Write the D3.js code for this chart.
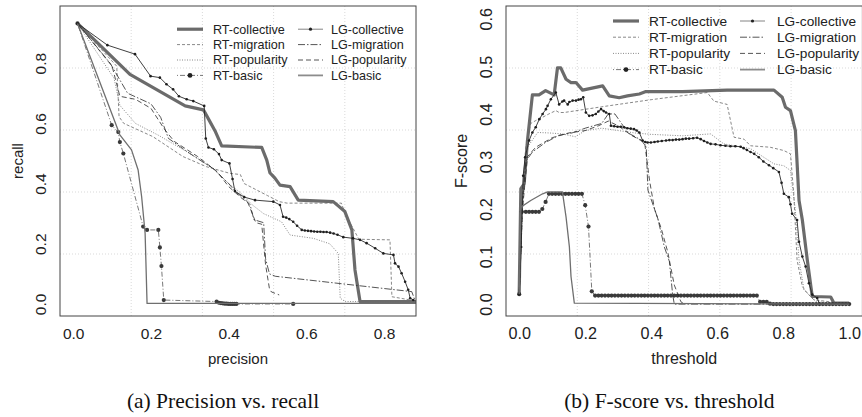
<!DOCTYPE html>
<html>
<head>
<meta charset="utf-8">
<script src="https://cdn.jsdelivr.net/npm/d3@7"></script>
<style>
body { margin: 0; background: #fff; }
svg { display: block; }
text { font-family: "Liberation Sans", Arial, sans-serif; fill: #222; }
.caption { font-family: "Liberation Serif", "Times New Roman", serif; fill: #111; }
</style>
</head>
<body>
<div id="chart"></div>
<script>
//series names in legend order (left column RT, right column LG)
var seriesNames = ["RT-collective", "RT-migration", "RT-popularity", "RT-basic",
    "LG-collective", "LG-migration", "LG-popularity", "LG-basic"];

//PANEL (a): [precision, recall] pairs
var prRTcollective = [[0.011,0.932],[0.146,0.763],[0.288,0.658],[0.335,0.645],[0.35,0.61],[0.365,0.575],[0.382,0.525],
    [0.485,0.52],[0.498,0.478],[0.506,0.436],[0.519,0.418],[0.532,0.395],[0.558,0.39],[0.579,0.345],[0.669,0.34],
    [0.699,0.307],[0.717,0.246],[0.725,0.113],[0.738,0.008],[0.882,0.008]];
var prRTmigration = [[0.011,0.932],[0.112,0.79],[0.118,0.622],[0.13,0.6],[0.205,0.556],[0.282,0.49],[0.343,0.456],
    [0.403,0.434],[0.43,0.43],[0.44,0.4],[0.47,0.38],[0.5,0.36],[0.53,0.34],[0.55,0.335],[0.69,0.335],[0.7,0.3],
    [0.735,0.215],[0.815,0.213],[0.82,0.024],[0.882,0.01]];
var prRTpopularity = [[0.011,0.932],[0.105,0.75],[0.12,0.66],[0.16,0.6],[0.22,0.56],[0.3,0.5],[0.36,0.45],[0.4,0.4],
    [0.43,0.37],[0.46,0.33],[0.49,0.3],[0.536,0.273],[0.558,0.229],[0.618,0.218],[0.66,0.2],[0.682,0.168],
    [0.687,0.019],[0.7,0.008],[0.882,0.008]];
var prRTbasic = [[0.011,0.932],[0.099,0.594],[0.116,0.571],[0.12,0.538],[0.129,0.5],[0.18,0.257],[0.19,0.246],
    [0.219,0.246],[0.223,0.188],[0.227,0.126],[0.233,0.013],[0.369,0.008],[0.375,0.004],[0.38,0.003],[0.385,0.002],
    [0.39,0.001],[0.395,0.001],[0.4,0],[0.405,0],[0.41,0],[0.415,0],[0.42,0],[0.566,0]];
var prLGcollective = [[0.011,0.932],[0.088,0.86],[0.159,0.83],[0.199,0.757],[0.223,0.752],[0.24,0.73],[0.257,0.713],
    [0.272,0.69],[0.292,0.68],[0.309,0.674],[0.337,0.658],[0.341,0.55],[0.348,0.52],[0.362,0.514],[0.375,0.498],
    [0.382,0.478],[0.402,0.467],[0.41,0.415],[0.416,0.375],[0.44,0.355],[0.468,0.345],[0.515,0.34],[0.532,0.329],
    [0.54,0.29],[0.548,0.287],[0.556,0.282],[0.566,0.273],[0.576,0.26],[0.588,0.246],[0.596,0.244],[0.604,0.243],
    [0.612,0.242],[0.62,0.241],[0.628,0.24],[0.636,0.24],[0.644,0.239],[0.652,0.239],[0.661,0.237],[0.67,0.234],
    [0.68,0.23],[0.695,0.222],[0.72,0.218],[0.738,0.213],[0.755,0.202],[0.777,0.185],[0.798,0.168],[0.824,0.163],
    [0.828,0.135],[0.837,0.124],[0.845,0.102],[0.854,0.074],[0.862,0.047],[0.867,0.019],[0.875,0.013]];
var prLGmigration = [[0.011,0.932],[0.095,0.8],[0.14,0.7],[0.2,0.665],[0.225,0.62],[0.245,0.55],[0.3,0.5],[0.36,0.45],
    [0.4,0.4],[0.42,0.37],[0.44,0.35],[0.455,0.33],[0.465,0.28],[0.49,0.27],[0.495,0.15],[0.505,0.1],[0.52,0.092],
    [0.871,0.041],[0.88,0.01]];
var prLGpopularity = [[0.011,0.932],[0.1,0.79],[0.12,0.69],[0.16,0.68],[0.2,0.65],[0.235,0.58],[0.26,0.54],[0.32,0.49],
    [0.37,0.44],[0.4,0.39],[0.43,0.355],[0.45,0.335],[0.47,0.27],[0.485,0.265],[0.495,0.13],[0.505,0.05],
    [0.51,0.04],[0.53,0.03]];
var prLGbasic = [[0.011,0.932],[0.12,0.562],[0.15,0.512],[0.167,0.445],[0.176,0.357],[0.185,0.235],[0.19,0.002],[0.882,0.002]];

//PANEL (b): [threshold, F-score] pairs
var fsRTcollective = [[0,0.021],[0.005,0.243],[0.015,0.253],[0.025,0.344],[0.04,0.44],[0.06,0.44],[0.08,0.449],
    [0.106,0.44],[0.116,0.497],[0.126,0.497],[0.142,0.473],[0.157,0.466],[0.172,0.466],[0.192,0.45],[0.253,0.459],
    [0.273,0.438],[0.303,0.434],[0.328,0.438],[0.364,0.442],[0.384,0.447],[0.495,0.447],[0.63,0.45],[0.772,0.45],
    [0.797,0.435],[0.807,0.414],[0.822,0.407],[0.837,0.365],[0.848,0.218],[0.858,0.177],[0.873,0.093],[0.888,0.016],
    [0.944,0.015],[0.954,0.002],[1,0.002]];
var fsRTmigration = [[0,0.021],[0.008,0.2],[0.02,0.33],[0.035,0.38],[0.05,0.386],[0.071,0.393],[0.09,0.4],[0.111,0.407],
    [0.121,0.403],[0.136,0.403],[0.25,0.415],[0.4,0.43],[0.57,0.445],[0.59,0.427],[0.63,0.42],[0.651,0.351],
    [0.681,0.347],[0.701,0.333],[0.76,0.33],[0.802,0.323],[0.822,0.316],[0.832,0.232],[0.842,0.093],[0.858,0.037],
    [0.873,0.023],[0.893,0.009],[1,0]];
var fsRTpopularity = [[0,0.021],[0.01,0.2],[0.025,0.33],[0.045,0.35],[0.056,0.361],[0.091,0.36],[0.13,0.358],
    [0.17,0.352],[0.2,0.365],[0.25,0.37],[0.3,0.365],[0.35,0.36],[0.4,0.357],[0.495,0.354],[0.58,0.358],[0.62,0.337],
    [0.701,0.327],[0.772,0.295],[0.802,0.291],[0.822,0.281],[0.837,0.197],[0.848,0.093],[0.863,0.03],[0.9,0.005],[1,0]];
var fsRTbasic = [[0,0.021],[0.008,0.194],[0.02,0.194],[0.03,0.194],[0.04,0.194],[0.05,0.194],[0.06,0.194],[0.07,0.2],
    [0.08,0.215],[0.09,0.232],[0.1,0.232],[0.11,0.232],[0.12,0.232],[0.13,0.232],[0.14,0.232],[0.15,0.232],
    [0.16,0.232],[0.17,0.232],[0.18,0.232],[0.19,0.232],[0.2,0.208],[0.21,0.163],[0.22,0.027],[0.23,0.018],
    [0.24,0.018],[0.25,0.018],[0.26,0.018],[0.27,0.018],[0.28,0.018],[0.29,0.018],[0.3,0.018],[0.31,0.018],
    [0.32,0.018],[0.33,0.018],[0.34,0.018],[0.35,0.018],[0.36,0.018],[0.37,0.018],[0.38,0.018],[0.39,0.018],
    [0.4,0.018],[0.41,0.018],[0.42,0.018],[0.43,0.018],[0.44,0.018],[0.45,0.018],[0.46,0.018],[0.47,0.018],
    [0.48,0.018],[0.49,0.018],[0.5,0.018],[0.51,0.018],[0.52,0.018],[0.53,0.018],[0.54,0.018],[0.55,0.018],
    [0.56,0.018],[0.57,0.018],[0.58,0.018],[0.59,0.018],[0.6,0.018],[0.61,0.018],[0.62,0.018],[0.63,0.018],
    [0.64,0.018],[0.65,0.018],[0.66,0.018],[0.67,0.018],[0.68,0.018],[0.69,0.018],[0.7,0.018],[0.71,0.018],
    [0.72,0.018],[0.73,0.005],[0.74,0.005],[0.75,0.005],[0.76,0.001],[0.77,0],[0.78,0],[0.79,0],[0.8,0],[0.81,0],
    [0.82,0],[0.83,0],[0.84,0],[0.85,0],[0.86,0],[0.87,0],[0.88,0],[0.89,0],[0.9,0],[0.91,0],[0.92,0],[0.93,0],
    [0.94,0],[0.95,0],[0.96,0],[0.97,0],[0.98,0],[0.99,0],[1,0]];
var fsLGcollective = [[0,0.021],[0.006,0.12],[0.012,0.27],[0.018,0.309],[0.03,0.344],[0.04,0.361],[0.05,0.372],
    [0.061,0.389],[0.071,0.4],[0.081,0.41],[0.086,0.417],[0.096,0.431],[0.111,0.445],[0.121,0.42],[0.131,0.426],
    [0.136,0.428],[0.147,0.42],[0.152,0.425],[0.162,0.428],[0.172,0.428],[0.18,0.43],[0.187,0.431],[0.194,0.435],
    [0.202,0.403],[0.212,0.396],[0.222,0.397],[0.232,0.4],[0.24,0.405],[0.248,0.41],[0.256,0.406],[0.263,0.403],
    [0.273,0.4],[0.278,0.375],[0.288,0.374],[0.298,0.373],[0.308,0.373],[0.318,0.372],[0.328,0.37],[0.338,0.369],
    [0.348,0.368],[0.356,0.365],[0.364,0.361],[0.374,0.344],[0.382,0.341],[0.389,0.34],[0.399,0.34],[0.41,0.341],
    [0.42,0.342],[0.432,0.343],[0.445,0.344],[0.455,0.345],[0.465,0.345],[0.475,0.346],[0.485,0.346],[0.495,0.347],
    [0.505,0.348],[0.515,0.348],[0.527,0.349],[0.539,0.35],[0.55,0.347],[0.56,0.343],[0.57,0.34],[0.58,0.337],
    [0.595,0.336],[0.61,0.334],[0.625,0.333],[0.64,0.332],[0.655,0.332],[0.671,0.331],[0.68,0.328],[0.69,0.324],
    [0.701,0.32],[0.712,0.316],[0.726,0.309],[0.74,0.3],[0.757,0.292],[0.77,0.286],[0.787,0.278],[0.795,0.255],
    [0.802,0.232],[0.817,0.225],[0.822,0.21],[0.827,0.19],[0.842,0.177],[0.848,0.131],[0.858,0.1],[0.868,0.079],
    [0.878,0.044],[0.888,0.02],[0.903,0.013],[0.91,0]];
var fsLGmigration = [[0,0.021],[0.008,0.19],[0.02,0.3],[0.04,0.32],[0.08,0.34],[0.12,0.355],[0.16,0.36],[0.2,0.37],
    [0.25,0.38],[0.27,0.4],[0.29,0.4],[0.33,0.36],[0.37,0.345],[0.385,0.33],[0.39,0.24],[0.41,0.2],[0.42,0.18],
    [0.44,0.12],[0.455,0.09],[0.465,0.02],[0.47,0],[1,0]];
var fsLGpopularity = [[0,0.021],[0.01,0.2],[0.025,0.31],[0.05,0.33],[0.1,0.35],[0.15,0.36],[0.2,0.365],[0.24,0.375],
    [0.27,0.385],[0.3,0.375],[0.34,0.355],[0.38,0.34],[0.395,0.26],[0.41,0.2],[0.43,0.16],[0.45,0.11],[0.47,0.04],
    [0.49,0.005],[0.5,0]];
var fsLGbasic = [[0,0.021],[0.005,0.204],[0.035,0.218],[0.071,0.232],[0.086,0.236],[0.131,0.236],[0.142,0.183],
    [0.152,0.121],[0.157,0.058],[0.167,0.002],[1,0]];

//tick labels for both panels
var precisionTicks = [0, 0.2, 0.4, 0.6, 0.8];
var recallTicks = [0, 0.2, 0.4, 0.6, 0.8];
var thresholdTicks = [0, 0.2, 0.4, 0.6, 0.8, 1.0];
var fscoreTicks = [0, 0.1, 0.2, 0.3, 0.4, 0.5, 0.6];

//line look per series (same in both panels)
var lineStyles = {
    "RT-collective": {stroke: "#6b6b6b", width: 3.2, dash: null, dot: 0},
    "RT-migration": {stroke: "#6a6a6a", width: 0.8, dash: "3,2", dot: 0},
    "RT-popularity": {stroke: "#6a6a6a", width: 0.8, dash: "1,1.5", dot: 0},
    "RT-basic": {stroke: "#555", width: 0.8, dash: "1,2,5,2", dot: 2.1},
    "LG-collective": {stroke: "#2a2a2a", width: 0.9, dash: null, dot: 1.3},
    "LG-migration": {stroke: "#2a2a2a", width: 0.8, dash: "7,2,1.5,2", dot: 0},
    "LG-popularity": {stroke: "#2a2a2a", width: 0.8, dash: "5,3", dot: 0},
    "LG-basic": {stroke: "#6f6f6f", width: 1.3, dash: null, dot: 0}
};

var svg = d3.select("#chart").append("svg")
    .attr("width", 862)
    .attr("height", 417);

var fmt = d3.format(".1f");

//DRAW ONE PANEL
function drawPanel(p) {
    var x = d3.scaleLinear().domain(p.xDomain).range([p.left, p.right]);
    var y = d3.scaleLinear().domain(p.yDomain).range([p.bottom, p.top]);

    //grid splits the box in 5 equal parts (like R grid())
    var g = svg.append("g");
    var gx = d3.range(1, 5).map(i => p.left + i * (p.right - p.left) / 5);
    var gy = d3.range(1, 5).map(i => p.top + i * (p.bottom - p.top) / 5);
    g.selectAll(".gx").data(gx).enter().append("line")
        .attr("x1", d => d).attr("x2", d => d).attr("y1", p.top).attr("y2", p.bottom)
        .attr("stroke", "#cfcfcf").attr("stroke-width", 0.8).attr("stroke-dasharray", "1,2");
    g.selectAll(".gy").data(gy).enter().append("line")
        .attr("y1", d => d).attr("y2", d => d).attr("x1", p.left).attr("x2", p.right)
        .attr("stroke", "#cfcfcf").attr("stroke-width", 0.8).attr("stroke-dasharray", "1,2");

    //clip for the curves
    svg.append("clipPath").attr("id", p.id)
        .append("rect").attr("x", p.left).attr("y", p.top)
        .attr("width", p.right - p.left).attr("height", p.bottom - p.top);
    var plot = svg.append("g").attr("clip-path", `url(#${p.id})`);

    var line = d3.line().x(d => x(d[0])).y(d => y(d[1]));
    seriesNames.forEach(function(name, i) {
        var st = lineStyles[name];
        var data = p.series[i];
        plot.append("path").datum(data)
            .attr("d", line)
            .attr("fill", "none")
            .attr("stroke", st.stroke)
            .attr("stroke-width", st.width)
            .attr("stroke-dasharray", st.dash)
            .attr("stroke-linejoin", "round");
        if (st.dot > 0) {
            plot.selectAll(null).data(data).enter().append("circle")
                .attr("cx", d => x(d[0])).attr("cy", d => y(d[1]))
                .attr("r", st.dot).attr("fill", name === "RT-basic" ? "#3a3a3a" : "#1e1e1e");
        }
    });

    //box
    svg.append("rect")
        .attr("x", p.left).attr("y", p.top)
        .attr("width", p.right - p.left).attr("height", p.bottom - p.top)
        .attr("fill", "none").attr("stroke", "#444").attr("stroke-width", 1);

    //x axis, labels only
    var xAxis = svg.append("g")
        .attr("transform", `translate(0, ${p.bottom})`)
        .call(d3.axisBottom(x).tickValues(p.xTicks).tickFormat(fmt).tickSize(0));
    xAxis.select(".domain").remove();
    xAxis.selectAll("text")
        .attr("y", 17.5).attr("dy", "0.35em")
        .style("font-size", p.tickFont + "px").style("fill", "#222")
        .style("font-family", "Liberation Sans, Arial, sans-serif");

    //y axis, rotated labels like R's default
    var yAxis = svg.append("g")
        .attr("transform", `translate(${p.left}, 0)`)
        .call(d3.axisLeft(y).tickValues(p.yTicks).tickFormat(fmt).tickSize(0));
    yAxis.select(".domain").remove();
    yAxis.selectAll("text")
        .attr("x", 0).attr("dy", null)
        .attr("transform", "translate(-20,0) rotate(-90)")
        .attr("dominant-baseline", "central")
        .style("text-anchor", "middle")
        .style("font-size", p.tickFont + "px").style("fill", "#222")
        .style("font-family", "Liberation Sans, Arial, sans-serif");

    //axis titles
    svg.append("text")
        .attr("x", (p.left + p.right) / 2 + p.xTitleShift).attr("y", 363.5)
        .style("text-anchor", "middle").style("font-size", p.titleFont + "px")
        .text(p.xTitle);
    svg.append("text")
        .attr("transform", `translate(${p.yTitleX}, 161) rotate(-90)`)
        .style("text-anchor", "middle").style("font-size", p.titleFont + "px")
        .text(p.yTitle);

    //legend: two columns of four
    var leg = svg.append("g");
    seriesNames.forEach(function(name, i) {
        var st = lineStyles[name];
        var col = i < 4 ? 0 : 1;
        var row = i % 4;
        var ly = p.legY + row * p.legStep;
        var lx0 = p.legCols[col][0], lx1 = p.legCols[col][1], tx = p.legCols[col][2];
        leg.append("line")
            .attr("x1", lx0).attr("x2", lx1).attr("y1", ly).attr("y2", ly)
            .attr("stroke", name === "LG-collective" ? "#777" : (name === "LG-basic" ? "#8c8c8c" : st.stroke))
            .attr("stroke-width", name === "LG-basic" ? 1.8 : st.width)
            .attr("stroke-dasharray", st.dash);
        if (st.dot > 0) {
            leg.append("circle").attr("cx", (lx0 + lx1) / 2).attr("cy", ly)
                .attr("r", st.dot + 0.3).attr("fill", "#222");
        }
        leg.append("text")
            .attr("x", tx).attr("y", ly).attr("dy", "0.35em")
            .style("font-size", p.legFont + "px")
            .text(name);
    });

    //caption under the panel
    svg.append("text").attr("class", "caption")
        .attr("x", p.capX).attr("y", 407.5)
        .style("text-anchor", "middle").style("font-size", "21.5px")
        .text(p.caption);
}

//panel (a)
drawPanel({
    id: "clipA", left: 60, right: 416, top: 6, bottom: 316,
    xDomain: [-0.034, 0.882], yDomain: [-0.04, 0.99],
    xTicks: precisionTicks, yTicks: recallTicks,
    series: [prRTcollective, prRTmigration, prRTpopularity, prRTbasic,
        prLGcollective, prLGmigration, prLGpopularity, prLGbasic],
    tickFont: 15.5, titleFont: 15, xTitle: "precision", yTitle: "recall", xTitleShift: 0, yTitleX: 22.5,
    legY: 29.2, legStep: 15.4, legFont: 12.6,
    legCols: [[177, 203, 213], [298, 323, 331]],
    caption: "(a) Precision vs. recall", capX: 223
});

//panel (b)
drawPanel({
    id: "clipB", left: 506, right: 862.4, top: 6, bottom: 316,
    xDomain: [-0.04, 1.04], yDomain: [-0.025, 0.627],
    xTicks: thresholdTicks, yTicks: fscoreTicks,
    series: [fsRTcollective, fsRTmigration, fsRTpopularity, fsRTbasic,
        fsLGcollective, fsLGmigration, fsLGpopularity, fsLGbasic],
    tickFont: 16.2, titleFont: 16, xTitle: "threshold", yTitle: "F-score", xTitleShift: 0, yTitleX: 467,
    legY: 21, legStep: 16.2, legFont: 13.7,
    legCols: [[613, 639, 649], [740, 765, 777]],
    caption: "(b) F-score vs. threshold", capX: 669.3
});
</script>
</body>
</html>
